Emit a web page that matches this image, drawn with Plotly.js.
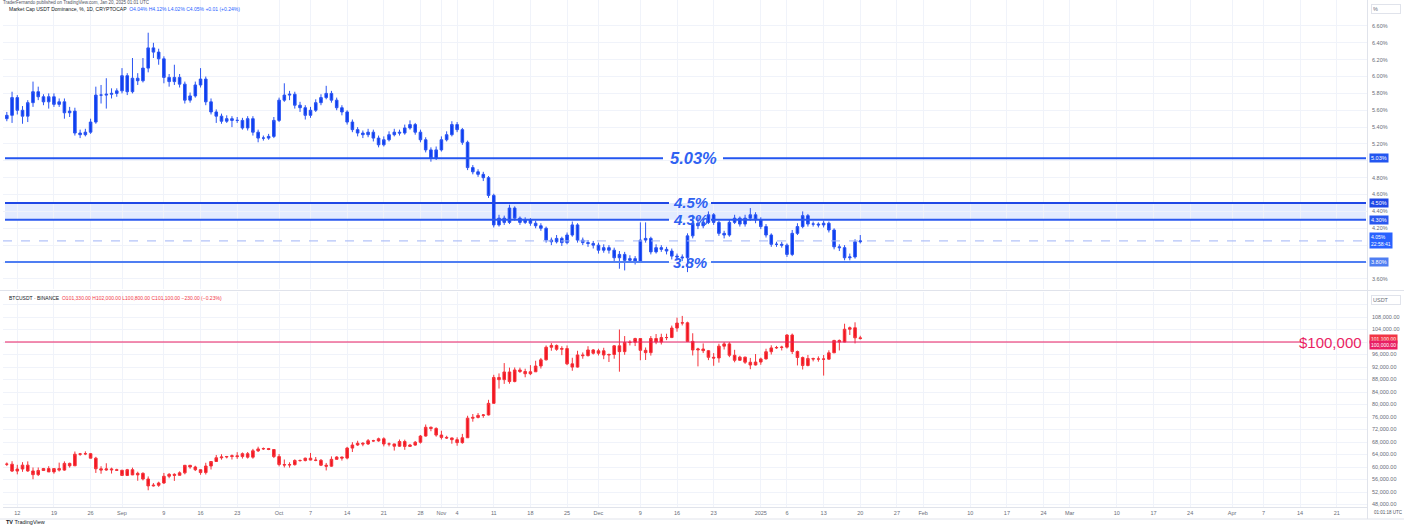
<!DOCTYPE html>
<html><head><meta charset="utf-8">
<script src="https://cdn.plot.ly/plotly-3.0.1.min.js"></script>
<style>html,body{margin:0;padding:0;background:#fff;overflow:hidden}#chart{width:1404px;height:526px}</style>
</head><body><div id="chart"></div>
<script>
// ---------- DATA ----------
const firstDay = [2024, 7, 10]; // Aug 10, 2024 (daily candles)

const usdtOpen = [5.50,5.54,5.75,5.60,5.53,5.69,5.82,5.76,5.70,5.76,
5.67,5.70,5.57,5.59,5.33,5.31,5.34,5.46,5.78,5.78,
5.79,5.80,5.83,6.01,5.82,5.98,5.95,6.10,6.34,6.29,
6.21,5.99,5.94,5.99,5.91,5.72,5.77,5.90,5.97,5.70,
5.58,5.53,5.47,5.50,5.48,5.48,5.39,5.50,5.34,5.27,
5.27,5.29,5.48,5.72,5.78,5.79,5.66,5.63,5.54,5.60,
5.69,5.75,5.80,5.72,5.63,5.58,5.46,5.37,5.33,5.31,
5.34,5.27,5.19,5.25,5.31,5.34,5.33,5.39,5.43,5.34,
5.25,5.13,5.03,5.13,5.25,5.31,5.43,5.37,5.22,4.92,
4.87,4.84,4.80,4.59,4.24,4.32,4.27,4.44,4.32,4.27,
4.30,4.26,4.23,4.20,4.06,4.04,4.08,4.03,4.12,4.24,
4.06,4.03,4.02,4.00,3.94,3.97,3.94,3.85,3.89,3.82,
3.84,3.81,4.06,4.08,3.92,3.97,3.95,3.93,3.87,3.86,
3.85,4.11,4.26,4.23,4.27,4.36,4.27,4.14,4.12,4.27,
4.32,4.25,4.32,4.36,4.30,4.22,4.12,4.01,4.01,4.00,
3.89,4.14,4.22,4.35,4.25,4.25,4.24,4.26,4.18,3.98,
3.97,3.85,3.86,4.04];
const usdtHigh = [5.58,5.82,5.78,5.65,5.72,5.94,5.88,5.79,5.80,5.80,
5.74,5.74,5.64,5.63,5.37,5.38,5.50,5.88,5.90,5.98,
5.86,5.86,6.10,6.04,6.22,6.04,6.22,6.52,6.40,6.33,
6.24,6.03,6.14,6.03,5.94,5.81,5.94,6.10,6.00,5.74,
5.61,5.56,5.54,5.53,5.52,5.51,5.53,5.53,5.37,5.30,
5.32,5.52,5.75,5.92,5.83,5.82,5.70,5.66,5.64,5.73,
5.79,5.89,5.83,5.75,5.66,5.60,5.49,5.40,5.36,5.38,
5.37,5.30,5.29,5.35,5.38,5.37,5.43,5.48,5.45,5.37,
5.28,5.16,5.17,5.29,5.35,5.47,5.46,5.39,5.24,4.95,
4.90,4.87,4.82,4.61,4.36,4.35,4.48,4.46,4.34,4.33,
4.32,4.29,4.26,4.22,4.09,4.12,4.10,4.15,4.28,4.26,
4.09,4.06,4.05,4.03,4.01,4.00,3.97,3.93,3.92,3.88,
3.87,4.27,4.27,4.10,4.01,4.00,3.98,3.96,3.90,3.89,
4.14,4.36,4.33,4.31,4.40,4.38,4.29,4.17,4.30,4.36,
4.34,4.36,4.44,4.39,4.33,4.25,4.14,4.04,4.04,4.02,
4.18,4.26,4.40,4.37,4.28,4.27,4.29,4.28,4.20,4.01,
4.00,3.90,4.07,4.12];
const usdtLow = [5.47,5.45,5.55,5.44,5.46,5.64,5.72,5.66,5.62,5.64,
5.64,5.50,5.52,5.30,5.27,5.29,5.32,5.44,5.68,5.62,
5.74,5.76,5.80,5.78,5.80,5.90,5.93,6.05,6.22,6.14,
5.92,5.88,5.90,5.87,5.68,5.69,5.75,5.87,5.66,5.55,
5.45,5.44,5.45,5.40,5.45,5.37,5.36,5.30,5.22,5.24,
5.25,5.27,5.46,5.70,5.72,5.62,5.58,5.49,5.51,5.58,
5.66,5.73,5.69,5.60,5.54,5.43,5.34,5.29,5.27,5.28,
5.23,5.16,5.17,5.23,5.29,5.30,5.31,5.37,5.31,5.22,
5.10,4.99,5.01,5.11,5.23,5.29,5.34,5.19,4.89,4.84,
4.81,4.76,4.56,4.21,4.22,4.24,4.25,4.29,4.24,4.25,
4.23,4.20,4.17,4.03,4.00,4.02,3.99,4.01,4.10,4.03,
4.00,3.98,3.96,3.90,3.91,3.90,3.80,3.72,3.70,3.79,
3.77,3.79,4.03,3.89,3.90,3.92,3.89,3.83,3.82,3.81,
3.68,4.08,4.19,4.20,4.25,4.24,4.11,4.08,4.10,4.25,
4.22,4.22,4.29,4.26,4.19,4.09,3.98,3.98,3.97,3.86,
3.87,4.12,4.20,4.22,4.22,4.21,4.21,4.15,3.95,3.93,
3.82,3.82,3.84,4.02];
const usdtClose = [5.54,5.75,5.60,5.53,5.69,5.82,5.76,5.70,5.76,5.67,
5.70,5.57,5.59,5.33,5.31,5.34,5.46,5.78,5.78,5.79,
5.80,5.83,6.01,5.82,5.98,5.95,6.10,6.34,6.29,6.21,
5.99,5.94,5.99,5.91,5.72,5.77,5.90,5.97,5.70,5.58,
5.53,5.47,5.50,5.48,5.48,5.39,5.50,5.34,5.27,5.27,
5.29,5.48,5.72,5.78,5.79,5.66,5.63,5.54,5.60,5.69,
5.75,5.80,5.72,5.63,5.58,5.46,5.37,5.33,5.31,5.34,
5.27,5.19,5.25,5.31,5.34,5.33,5.39,5.43,5.34,5.25,
5.13,5.03,5.13,5.25,5.31,5.43,5.37,5.22,4.92,4.87,
4.84,4.80,4.59,4.24,4.32,4.27,4.44,4.32,4.27,4.30,
4.26,4.23,4.20,4.06,4.04,4.08,4.03,4.12,4.24,4.06,
4.03,4.02,4.00,3.94,3.97,3.94,3.85,3.89,3.82,3.84,
3.81,4.06,4.08,3.92,3.97,3.95,3.93,3.87,3.86,3.85,
4.11,4.26,4.23,4.27,4.36,4.27,4.14,4.12,4.27,4.32,
4.25,4.32,4.36,4.30,4.22,4.12,4.01,4.01,4.00,3.89,
4.14,4.22,4.35,4.25,4.25,4.24,4.26,4.18,3.98,3.97,
3.85,3.86,4.04,4.05];

const btcOpen = [60880,60900,58700,59350,60600,58740,57560,58870,59490,58430,
59490,59010,61160,60380,64090,64180,64260,62830,59420,59030,
59390,59120,58970,57300,59130,57480,57970,56160,53950,54160,
54880,57040,57650,57340,58130,60540,60000,59130,58210,60310,
61760,62950,63200,63350,63580,63330,64260,63150,65180,65790,
65890,65600,63330,60800,60650,60750,62090,62060,62820,62220,
62130,60580,60270,62450,63190,62850,66050,67040,67610,67370,
68410,68360,69030,67370,67380,66660,68160,66600,67010,67930,
69900,72710,72340,70220,69480,69300,68750,67800,69350,75620,
75870,76510,76660,80370,88650,87950,90410,87340,91050,90550,
89850,90460,92320,94290,98330,98900,97670,97900,93010,91970,
95860,95640,97460,96410,97190,95840,96000,98770,96920,99830,
99920,101110,97340,96590,101120,100000,101420,101420,104460,106060,
106140,100200,97460,97760,97220,95100,94880,98670,99400,95760,
94160,95160,93530,92640,93580,94590,96890,98110,98240,98360,
102240,96950,95040,92480,94700,94570,94540,94520,96530,100500,
99990,104080,104560,101330];
const btcHigh = [61450,61850,60700,61550,61800,59850,59850,59700,60260,59620,
61400,61800,61400,64950,64500,65000,64500,63250,60250,61200,
59800,59450,59050,59400,59800,58500,58300,56990,54850,55300,
58100,58050,57990,58600,60650,60650,60400,59200,61350,61800,
63850,64100,63550,64000,64750,64650,64800,65800,66500,66250,
66100,65650,64150,62400,61500,62450,62400,63000,64500,63200,
62550,61300,63400,63450,63300,66450,67950,68400,67950,68950,
68700,69400,69500,67850,67450,68800,68750,67400,68300,70250,
73600,72950,72700,71600,70000,69400,69500,70600,76400,76950,
77250,76950,81500,89500,89950,93250,91800,91850,91800,91450,
92600,94000,94900,98900,99650,99200,98650,98900,94950,97200,
96650,98650,97750,97850,98150,96300,99000,104000,101900,100550,
101350,101200,98250,101900,102550,102650,102650,105250,107800,108350,
106500,102800,98150,99550,97450,96450,99450,99950,99950,97500,
95600,95300,94900,96150,95000,97850,98950,98750,98800,102500,
102700,97250,95350,95850,95000,95400,95850,97350,100700,100800,
105850,104950,106300,102000];
const btcLow = [60300,58400,57650,58450,58450,56080,57100,58780,58400,57850,
58550,58800,59800,60350,63600,63800,62800,58100,57850,58800,
57900,58750,57200,57100,57400,55600,55700,52550,53750,53650,
54600,56400,55550,57350,57650,59450,58700,57500,57600,59200,
61600,62350,62750,62400,62600,62700,62700,62650,64800,65450,
65400,62850,60200,59850,59800,60450,61700,61800,62150,61850,
60300,58900,60050,62450,62050,62450,64800,66750,66650,67050,
68050,68100,66600,66600,65250,66450,65500,66400,66800,67500,
69700,71450,69700,68800,69000,67450,66800,67450,69300,74500,
75550,75750,76500,80200,85100,86600,86650,87100,90100,88700,
89400,90400,91500,94100,97200,97200,95800,92600,90800,91800,
94650,95350,96000,95700,94500,93600,94650,90500,95900,98900,
98700,94150,94250,95650,99300,99200,100600,101250,103300,105300,
100000,95700,92200,96450,94200,92400,93400,97600,95150,93500,
94000,93000,91300,92500,92700,94400,96000,97800,97300,97900,
96150,92500,91200,92200,93800,93700,89250,94300,96500,97300,
99950,102250,99550,100800];
const btcClose = [60900,58700,59350,60600,58740,57560,58870,59490,58430,59490,
59010,61160,60380,64090,64180,64260,62830,59420,59030,59390,
59120,58970,57300,59130,57480,57970,56160,53950,54160,54880,
57040,57650,57340,58130,60540,60000,59130,58210,60310,61760,
62950,63200,63350,63580,63330,64260,63150,65180,65790,65890,
65600,63330,60800,60650,60750,62090,62060,62820,62220,62130,
60580,60270,62450,63190,62850,66050,67040,67610,67370,68410,
68360,69030,67370,67380,66660,68160,66600,67010,67930,69900,
72710,72340,70220,69480,69300,68750,67800,69350,75620,75870,
76510,76660,80370,88650,87950,90410,87340,91050,90550,89850,
90460,92320,94290,98330,98900,97670,97900,93010,91970,95860,
95640,97460,96410,97190,95840,96000,98770,96920,99830,99920,
101110,97340,96590,101120,100000,101420,101420,104460,106060,106140,
100200,97460,97760,97220,95100,94880,98670,99400,95760,94160,
95160,93530,92640,93580,94590,96890,98110,98240,98360,102240,
96950,95040,92480,94700,94570,94540,94520,96530,100500,99990,
104080,104560,101330,101100];

const usdtLevels = [5.03, 4.5, 4.3, 3.8];
const usdtLevelText = ['5.03%', '4.5%', '4.3%', '3.8%'];
const usdtLevelAxisText = ['5.03%', '4.50%', '4.30%', '3.80%'];
const usdtLast = 4.05;
const btcLevel = 100000;
const btcLevelText = '$100,000';
const btcLast = 101100;

const usdtTicks = [3.6,3.8,4.0,4.2,4.4,4.6,4.8,5.0,5.2,5.4,5.6,5.8,6.0,6.2,6.4,6.6];
const usdtTickText = ['3.60%','','','4.20%','4.40%','4.60%','4.80%','','5.20%','5.40%','5.60%','5.80%','6.00%','6.20%','6.40%','6.60%'];
const btcTicks = [48000,52000,56000,60000,64000,68000,72000,76000,80000,84000,88000,92000,96000,100000,104000,108000,112000];
const btcTickText = ['48,000.00','52,000.00','56,000.00','60,000.00','64,000.00','68,000.00','72,000.00','76,000.00','80,000.00','84,000.00','88,000.00','92,000.00','96,000.00','','104,000.00','108,000.00',''];

const xTickDates = ['2024-08-12','2024-08-19','2024-08-26','2024-09-01','2024-09-09','2024-09-16','2024-09-23','2024-10-01','2024-10-07','2024-10-14','2024-10-21','2024-10-28','2024-11-01','2024-11-04','2024-11-11','2024-11-18','2024-11-25','2024-12-01','2024-12-09','2024-12-16','2024-12-23','2025-01-01','2025-01-06','2025-01-13','2025-01-20','2025-01-27','2025-02-01','2025-02-10','2025-02-17','2025-02-24','2025-03-01','2025-03-10','2025-03-17','2025-03-24','2025-04-01','2025-04-07','2025-04-14','2025-04-21'];
const xTickText = ['12','19','26','Sep','9','16','23','Oct','7','14','21','28','Nov','4','11','18','25','Dec','9','16','23','2025','6','13','20','27','Feb','10','17','24','Mar','10','17','24','Apr','7','14','21'];

// ---------- LAYOUT HELPERS ----------
const W = 1404, H = 526, mL = 3, mR = 37, mT = 0, mB = 19;
const plotW = W - mL - mR, plotH = H - mT - mB;
const px = x => (x - mL) / plotW;
const py = y => (plotH - (y - mT)) / plotH;

const dates = usdtClose.map((_, i) => new Date(Date.UTC(firstDay[0], firstDay[1], firstDay[2] + i)).toISOString().slice(0, 10));

const blue = '#2962ff';
const red = '#f23645';
const pink = '#e91e63';
const grid = '#f0f3fa';
const border = '#e0e3eb';
const axisFont = {family: 'Liberation Sans, Arial, sans-serif', size: 5.5, color: '#6a6d78'};

const traces = [
  {type: 'candlestick', x: dates, open: usdtOpen, high: usdtHigh, low: usdtLow, close: usdtClose,
   xaxis: 'x2', yaxis: 'y', whiskerwidth: 0, hoverinfo: 'skip', showlegend: false,
   increasing: {line: {color: '#2b55f2', width: 1}, fillcolor: '#0b3df0'},
   decreasing: {line: {color: '#2b55f2', width: 1}, fillcolor: '#0b3df0'}},
  {type: 'candlestick', x: dates, open: btcOpen, high: btcHigh, low: btcLow, close: btcClose,
   xaxis: 'x', yaxis: 'y2', whiskerwidth: 0, hoverinfo: 'skip', showlegend: false,
   increasing: {line: {color: '#f5333b', width: 1}, fillcolor: '#f2141f'},
   decreasing: {line: {color: '#f5333b', width: 1}, fillcolor: '#f2141f'}}
];

const shapes = [];
const annotations = [];

// band between 4.3 and 4.5
shapes.push({type: 'rect', xref: 'paper', yref: 'y', x0: px(5), x1: px(1366), y0: usdtLevels[2], y1: usdtLevels[1],
  fillcolor: 'rgba(41,98,255,0.13)', line: {width: 0}, layer: 'below'});
// current price dashed line
shapes.push({type: 'line', xref: 'paper', yref: 'y', x0: 0, x1: 1, y0: usdtLast, y1: usdtLast,
  line: {color: '#9fb4f7', width: 1, dash: 'dash'}});

const levelColors = ['#2356f0', '#1f47e6', '#2a58ef', '#4f7ef2'];
const textCenters = [693, 690, 690, 690];
const gapHalf = [30, 21, 21, 21];
usdtLevels.forEach((v, i) => {
  const c = textCenters[i];
  shapes.push({type: 'line', xref: 'paper', yref: 'y', x0: px(5), x1: px(c - gapHalf[i]), y0: v, y1: v, line: {color: levelColors[i], width: 2}});
  shapes.push({type: 'line', xref: 'paper', yref: 'y', x0: px(c + gapHalf[i]), x1: px(1366), y0: v, y1: v, line: {color: levelColors[i], width: 2}});
  annotations.push({xref: 'paper', yref: 'y', x: px(c), y: v, text: usdtLevelText[i], showarrow: false,
    xanchor: 'center', yanchor: 'middle',
    font: {family: 'Liberation Sans, Arial, sans-serif', size: i === 0 ? 16.5 : 15, color: '#2f62f2', weight: 'bold', style: 'italic'}});
  annotations.push({xref: 'paper', yref: 'y', x: 1, xshift: 2, y: v, xanchor: 'left', yanchor: 'middle',
    text: usdtLevelAxisText[i], showarrow: false, bgcolor: levelColors[i], borderpad: 1,
    font: {family: axisFont.family, size: 5.5, color: '#ffffff'}});
});
annotations.push({xref: 'paper', yref: 'y', x: 1, xshift: 2, y: usdtLast, xanchor: 'left', yanchor: 'middle',
  text: usdtLast.toFixed(2) + '%<br>22:58:41', showarrow: false, bgcolor: blue, borderpad: 1, align: 'left',
  font: {family: axisFont.family, size: 5, color: '#ffffff'}});

// BTC $100,000 line
shapes.push({type: 'line', xref: 'paper', yref: 'y2', x0: px(5), x1: px(1301), y0: btcLevel, y1: btcLevel, line: {color: pink, width: 1.2}});
annotations.push({xref: 'paper', yref: 'y2', x: px(1364), y: btcLevel, xanchor: 'right', yanchor: 'middle', text: btcLevelText,
  showarrow: false, font: {family: 'Liberation Sans, Arial, sans-serif', size: 15, color: pink}});
annotations.push({xref: 'paper', yref: 'y2', x: 1, xshift: 2, y: btcLast, xanchor: 'left', yanchor: 'middle',
  text: '101,100.00', showarrow: false, bgcolor: red, borderpad: 1, font: {family: axisFont.family, size: 5, color: '#fff'}});
annotations.push({xref: 'paper', yref: 'y2', x: 1, xshift: 2, y: btcLevel, yshift: -3, xanchor: 'left', yanchor: 'middle',
  text: '100,000.00', showarrow: false, bgcolor: pink, borderpad: 1, font: {family: axisFont.family, size: 5, color: '#fff'}});

// pane separator, right axis border
shapes.push({type: 'line', xref: 'paper', yref: 'paper', x0: px(0), x1: px(W), y0: py(290.5), y1: py(290.5), line: {color: border, width: 1}});
shapes.push({type: 'line', xref: 'paper', yref: 'paper', x0: px(1367.5), x1: px(1367.5), y0: py(519), y1: py(0), line: {color: border, width: 1}});
shapes.push({type: 'line', xref: 'paper', yref: 'paper', x0: px(0), x1: px(W), y0: py(519), y1: py(519), line: {color: border, width: 1}});

// axis unit boxes
annotations.push({xref: 'paper', yref: 'paper', x: px(1371), y: py(9), xanchor: 'left', yanchor: 'middle', text: '%', align: 'left', width: 26,
  showarrow: false, bordercolor: border, borderwidth: 1, bgcolor: '#fff', borderpad: 1, font: axisFont});
annotations.push({xref: 'paper', yref: 'paper', x: px(1371), y: py(300), xanchor: 'left', yanchor: 'middle', text: 'USDT', align: 'left', width: 26,
  showarrow: false, bordercolor: border, borderwidth: 1, bgcolor: '#fff', borderpad: 1, font: axisFont});

// headers
const hdrFont = {family: 'Liberation Sans, Arial, sans-serif', size: 5, color: '#131722'};
annotations.push({xref: 'paper', yref: 'paper', x: px(1), y: py(2), xanchor: 'left', yanchor: 'middle', showarrow: false,
  text: 'TraderFernando published on TradingView.com, Jan 20, 2025 01:01 UTC', font: {family: hdrFont.family, size: 4.5, color: '#50535e'}});
annotations.push({xref: 'paper', yref: 'paper', x: px(7), y: py(9.5), xanchor: 'left', yanchor: 'middle', showarrow: false,
  text: 'Market Cap USDT Dominance, %, 1D, CRYPTOCAP  <span style="color:#2962ff">O4.04% H4.12% L4.02% C4.05% +0.01 (+0.24%)</span>', font: hdrFont});
annotations.push({xref: 'paper', yref: 'paper', x: px(7), y: py(298), xanchor: 'left', yanchor: 'middle', showarrow: false,
  text: 'BTCUSDT · BINANCE  <span style="color:#f23645">O101,330.00 H102,000.00 L100,800.00 C101,100.00 −230.00 (−0.23%)</span>', font: hdrFont});
annotations.push({xref: 'paper', yref: 'paper', x: px(4), y: py(522), xanchor: 'left', yanchor: 'middle', showarrow: false,
  text: '<b>TV</b> TradingView', font: {family: hdrFont.family, size: 5.5, color: '#131722'}});
annotations.push({xref: 'paper', yref: 'paper', x: px(1372), y: py(512.5), xanchor: 'left', yanchor: 'middle', showarrow: false,
  text: '01:01:18 UTC', font: {family: hdrFont.family, size: 4.5, color: '#50535e'}});

const layout = {
  width: W, height: H, margin: {l: mL, r: mR, t: mT, b: mB, pad: 0},
  paper_bgcolor: '#ffffff', plot_bgcolor: '#ffffff', showlegend: false, dragmode: false,
  font: axisFont,
  xaxis: {domain: [0, 1], anchor: 'y2', type: 'date', range: ['2024-08-09 06:30', '2025-04-26 18:40'],
    tickmode: 'array', tickvals: xTickDates, ticktext: xTickText, tickfont: axisFont, ticks: '',
    showgrid: true, gridcolor: grid, gridwidth: 1, showline: true, linecolor: border, zeroline: false,
    rangeslider: {visible: false}, fixedrange: true},
  xaxis2: {domain: [0, 1], anchor: 'y', type: 'date', matches: 'x', showticklabels: false, ticks: '',
    tickmode: 'array', tickvals: xTickDates, showgrid: true, gridcolor: grid, gridwidth: 1, showline: false, zeroline: false,
    rangeslider: {visible: false}, fixedrange: true},
  yaxis: {domain: [py(289), 1], anchor: 'x2', side: 'right', range: [3.4797, 6.908],
    tickmode: 'array', tickvals: usdtTicks, ticktext: usdtTickText, tickfont: axisFont, ticks: '', ticklabelstandoff: 4,
    showgrid: true, gridcolor: grid, zeroline: false, showline: false, fixedrange: true},
  yaxis2: {domain: [0, py(292)], anchor: 'x', side: 'right', range: [47200, 116000],
    tickmode: 'array', tickvals: btcTicks, ticktext: btcTickText, tickfont: axisFont, ticks: '', ticklabelstandoff: 4,
    showgrid: true, gridcolor: grid, zeroline: false, showline: false, fixedrange: true},
  shapes: shapes, annotations: annotations
};

Plotly.newPlot('chart', traces, layout, {displayModeBar: false, staticPlot: true});
</script>
</body></html>
